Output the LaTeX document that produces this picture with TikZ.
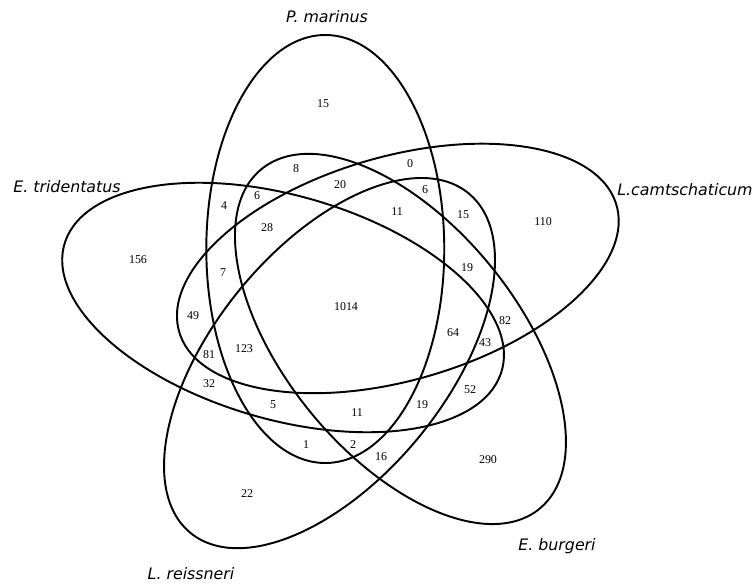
\documentclass[tikz,border=0pt]{standalone}
\usepackage{fontspec}
\setmainfont{Liberation Serif}
\newfontfamily\speciesfont{DejaVu Sans}
\usepackage{tikz}
\tikzset{
    set/.style = {
        draw, line width = 1.1pt
    },
    count/.style = {
        inner sep = 0pt,
        font = \fontsize{6.8}{8}\selectfont
    },
    species/.style = {
        inner sep = 0pt,
        font = \speciesfont\itshape\fontsize{9}{11}\selectfont
    }
}

\begin{document}
\begin{tikzpicture}

    \useasboundingbox (0,0) rectangle (15.1,-11.66);

    % the five sets, stretched a little in x
    \begin{scope}[xscale=1.07]
        % P. marinus
        \draw[set, shift={(6.080,-4.980)}, rotate=0] (0,0) ellipse (2.224 and 4.28);
        % L.camtschaticum
        \draw[set, shift={(7.436,-5.369)}, rotate=-72] (0,0) ellipse (2.224 and 4.28);
        % E. burgeri
        \draw[set, shift={(7.485,-6.779)}, rotate=-144] (0,0) ellipse (2.224 and 4.28);
        % L. reissneri
        \draw[set, shift={(6.159,-7.262)}, rotate=144] (0,0) ellipse (2.224 and 4.28);
        % E. tridentatus
        \draw[set, shift={(5.291,-6.150)}, rotate=72] (0,0) ellipse (2.224 and 4.28);
    \end{scope}

    % Species names
    \node[species] (pmar) at (6.54,-0.34) {P. marinus};
    \node[species] (ltri) at (1.34,-3.74) {E. tridentatus};
    \node[species] (lcam) at (13.70,-3.80) {L.camtschaticum};
    \node[species] (ebur) at (11.14,-10.92) {E. burgeri};
    \node[species] (lrei) at (3.82,-11.48) {L. reissneri};

    % Counts
    \node[count] (n15a) at (6.46,-2.08) {15};
    \node[count] (n8) at (5.92,-3.38) {8};
    \node[count] (n0) at (8.20,-3.28) {0};
    \node[count] (n20) at (6.80,-3.70) {20};
    \node[count] (n6a) at (8.50,-3.80) {6};
    \node[count] (n6b) at (5.14,-3.92) {6};
    \node[count] (n4) at (4.48,-4.12) {4};
    \node[count] (n28) at (5.34,-4.56) {28};
    \node[count] (n11a) at (7.94,-4.24) {11};
    \node[count] (n15b) at (9.26,-4.30) {15};
    \node[count] (n110) at (10.86,-4.44) {110};
    \node[count] (n156) at (2.76,-5.20) {156};
    \node[count] (n19a) at (9.34,-5.36) {19};
    \node[count] (n7) at (4.46,-5.46) {7};
    \node[count] (n1014) at (6.92,-6.14) {1014};
    \node[count] (n49) at (3.86,-6.32) {49};
    \node[count] (n82) at (10.10,-6.42) {82};
    \node[count] (n64) at (9.06,-6.66) {64};
    \node[count] (n43) at (9.70,-6.86) {43};
    \node[count] (n123) at (4.88,-6.98) {123};
    \node[count] (n81) at (4.18,-7.10) {81};
    \node[count] (n32) at (4.18,-7.68) {32};
    \node[count] (n52) at (9.40,-7.80) {52};
    \node[count] (n5) at (5.46,-8.10) {5};
    \node[count] (n19b) at (8.44,-8.10) {19};
    \node[count] (n11b) at (7.14,-8.26) {11};
    \node[count] (n1) at (6.12,-8.90) {1};
    \node[count] (n2) at (7.06,-8.90) {2};
    \node[count] (n16) at (7.62,-9.14) {16};
    \node[count] (n290) at (9.76,-9.20) {290};
    \node[count] (n22) at (4.94,-9.88) {22};

\end{tikzpicture}
\end{document}
